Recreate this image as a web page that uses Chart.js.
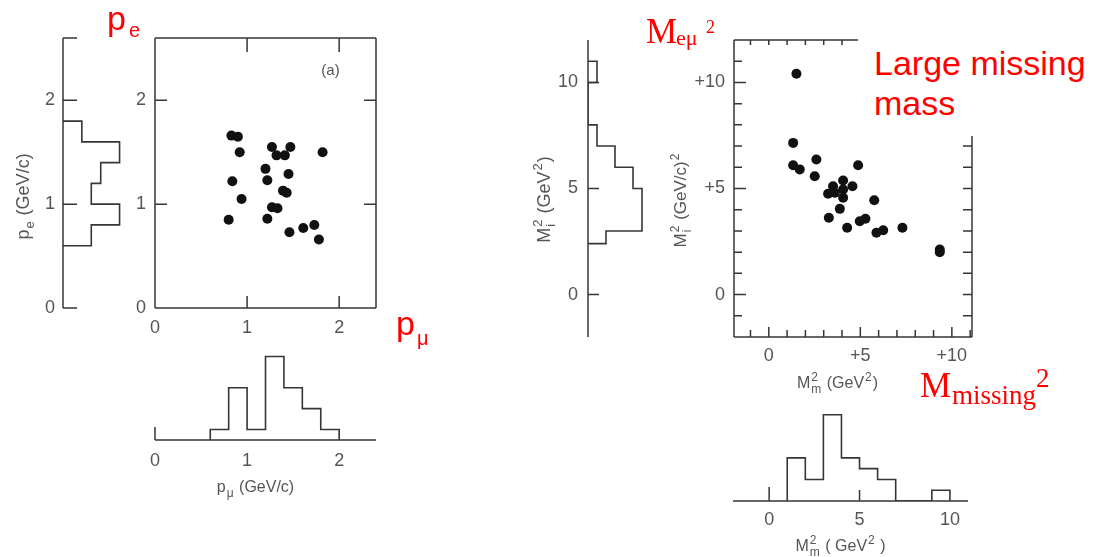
<!DOCTYPE html>
<html>
<head>
<meta charset="utf-8">
<script src="https://cdn.jsdelivr.net/npm/chart.js@4.4.1/dist/chart.umd.min.js"></script>
<style>
  html, body { margin: 0; padding: 0; background: #fff; }
  #stage { position: relative; width: 1094px; height: 557px; overflow: hidden; }
  #stage canvas { position: absolute; left: 0; top: 0; }
  .note { position: absolute; color: #f00; white-space: nowrap; line-height: 1; }
  .sans { font-family: "Liberation Sans", Arial, sans-serif; }
  .serif { font-family: "Liberation Serif", "Times New Roman", serif; }
  #bigNote { left: 858px; top: 30px; width: 220px; height: 93px; padding: 13px 0 0 16px;
             background: #fff; font-size: 34px; line-height: 40px; }
</style>
</head>
<body>
<div id="stage">
  <canvas id="peHist" width="1094" height="557"></canvas>
  <canvas id="pScatter" width="1094" height="557"></canvas>
  <canvas id="pMuHist" width="1094" height="557"></canvas>
  <canvas id="mI2Hist" width="1094" height="557"></canvas>
  <canvas id="massScatter" width="1094" height="557"></canvas>
  <canvas id="mMissHist" width="1094" height="557"></canvas>

  <div class="note sans" style="left:107px;top:1px;font-size:34px">p</div>
  <div class="note sans" style="left:129px;top:20px;font-size:20px">e</div>
  <div class="note sans" style="left:396px;top:306px;font-size:34px">p</div>
  <div class="note sans" style="left:417px;top:328px;font-size:20px">μ</div>

  <div class="note serif" style="left:646px;top:14px;font-size:35px">M</div>
  <div class="note serif" style="left:676px;top:27px;font-size:22px">eμ</div>
  <div class="note serif" style="left:706px;top:18px;font-size:18px">2</div>

  <div class="note serif" style="left:920px;top:368px;font-size:35px">M</div>
  <div class="note serif" style="left:952px;top:382px;font-size:27px">missing</div>
  <div class="note serif" style="left:1036px;top:365px;font-size:27px">2</div>

  <div id="bigNote" class="note sans">Large missing<br>mass</div>
</div>
<script>
// momenta of the e-mu events (GeV/c)
const pMu = [0.83, 0.90, 0.92, 0.84, 0.94, 0.80, 1.27, 1.32, 1.41, 1.47, 1.20, 1.22,
             1.45, 1.39, 1.43, 1.27, 1.33, 1.22, 1.46, 1.61, 1.73, 1.78, 1.82];
const pE = [1.66, 1.65, 1.50, 1.22, 1.05, 0.85, 1.55, 1.47, 1.47, 1.55, 1.34, 1.23,
            1.29, 1.13, 1.11, 0.97, 0.96, 0.86, 0.73, 0.77, 0.80, 0.66, 1.50];

// missing mass squared vs e-mu mass squared (GeV^2)
const mMiss2 = [1.51, 1.33, 1.33, 1.69, 2.60, 2.51, 4.88, 3.24, 3.51, 3.61, 4.06, 4.06, 4.06,
                4.57, 3.28, 3.88, 4.28, 4.97, 5.28, 5.76, 5.88, 6.25, 7.30, 9.34, 9.34];
const mI2 = [10.41, 7.15, 6.10, 5.90, 6.37, 5.58, 6.10, 4.75, 5.11, 4.80, 5.38, 4.95, 4.56,
             5.11, 3.62, 4.04, 3.15, 3.46, 3.57, 4.45, 2.91, 3.03, 3.15, 2.12, 2.00];

// projections
const peEdges = [0.6, 0.8, 1.0, 1.2, 1.4, 1.6, 1.8];
const peCounts = [3, 6, 3, 4, 6, 2];
const pMuEdges = [0.6, 0.8, 1.0, 1.2, 1.4, 1.6, 1.8, 2.0];
const pMuCounts = [1, 5, 1, 8, 5, 3, 1];
const mI2Edges = [2.4, 3, 5, 6, 7, 8, 9, 10, 11];
const mI2Counts = [2, 6, 5, 3, 1, 0, 0, 1];
const mMissEdges = [1, 2, 3, 4, 5, 6, 7, 8, 9, 10];
const mMissCounts = [4, 2, 8, 4, 3, 2, 0, 0, 1];

// tick labels
const pTicks = [0, 1, 2];
const pTickLabels = ['0', '1', '2'];
const massTicks = [0, 5, 10];
const massHistLabels = ['0', '5', '10'];
const massScatterLabels = ['0', '+5', '+10'];

const W = 1094, H = 557;
const INK = '#363636';
const GRAY = '#555';
const FONT = '"Liberation Sans", Arial, sans-serif';

// step outline of a histogram, optionally lying on its side
function outline(edges, counts, sideways) {
  const pts = [[edges[0], 0]];
  counts.forEach((c, i) => pts.push([edges[i], c], [edges[i + 1], c]));
  pts.push([edges[edges.length - 1], 0]);
  return pts.map(([v, c]) => sideways ? { x: c, y: v } : { x: v, y: c });
}

function unitSteps(from, to) {
  const out = [];
  for (let v = from; v <= to; v++) out.push(v);
  return out;
}

function axis(min, max, o) {
  o = o || {};
  return {
    type: 'linear', min, max,
    display: !!o.values,
    position: o.position,
    grid: { display: false, drawTicks: false },
    border: { display: false },
    ticks: {
      autoSkip: false, maxRotation: 0, padding: o.padding || 8,
      color: GRAY, font: { family: FONT, size: 18 },
      callback: (v, i) => (o.labels || [])[i]
    },
    afterBuildTicks: s => { if (o.values) s.ticks = o.values.map(v => ({ value: v })); },
    afterFit: s => {
      if (o.size != null) {
        if (s.isHorizontal()) s.height = o.size; else s.width = o.size;
      }
      s.paddingLeft = s.paddingRight = s.paddingTop = s.paddingBottom = 0;
    }
  };
}

// frame lines and tick marks pointing into the plot
const inwardTicks = {
  id: 'inwardTicks',
  afterDatasetsDraw(chart, args, opts) {
    const { ctx, chartArea: a, scales: { x, y } } = chart;
    ctx.save();
    ctx.strokeStyle = INK;
    ctx.lineWidth = 1.5;
    ctx.beginPath();
    (opts.edges || []).forEach(side => {
      if (side === 'left') { ctx.moveTo(a.left, a.top); ctx.lineTo(a.left, a.bottom); }
      if (side === 'right') { ctx.moveTo(a.right, a.top); ctx.lineTo(a.right, a.bottom); }
      if (side === 'top') { ctx.moveTo(a.left, a.top); ctx.lineTo(a.right, a.top); }
      if (side === 'bottom') { ctx.moveTo(a.left, a.bottom); ctx.lineTo(a.right, a.bottom); }
    });
    (opts.marks || []).forEach(m => m.values.forEach(v => {
      if (m.side === 'left') { const p = y.getPixelForValue(v); ctx.moveTo(a.left, p); ctx.lineTo(a.left + m.len, p); }
      if (m.side === 'right') { const p = y.getPixelForValue(v); ctx.moveTo(a.right, p); ctx.lineTo(a.right - m.len, p); }
      if (m.side === 'top') { const p = x.getPixelForValue(v); ctx.moveTo(p, a.top); ctx.lineTo(p, a.top + m.len); }
      if (m.side === 'bottom') { const p = x.getPixelForValue(v); ctx.moveTo(p, a.bottom); ctx.lineTo(p, a.bottom - m.len); }
    }));
    ctx.stroke();
    ctx.restore();
  }
};

// axis titles with sub/superscripts; x,y give the baseline centre
const richTitles = {
  id: 'richTitles',
  afterDraw(chart, args, opts) {
    const ctx = chart.ctx;
    (opts.items || []).forEach(it => {
      const size = it.size || 16, small = Math.round(size * 0.72);
      ctx.save();
      ctx.translate(it.x, it.y);
      if (it.rotate) ctx.rotate(-Math.PI / 2);
      ctx.fillStyle = GRAY;
      ctx.textBaseline = 'alphabetic';
      const widths = it.parts.map(p => {
        ctx.font = `${p.sub || p.sup ? small : size}px ${FONT}`;
        let w = ctx.measureText(p.text).width;
        if (p.over) w = Math.max(w, ctx.measureText(p.over).width);
        return w + 1;
      });
      let cx = -widths.reduce((s, w) => s + w, 0) / 2;
      it.parts.forEach((p, i) => {
        ctx.font = `${p.sub || p.sup ? small : size}px ${FONT}`;
        const dy = p.sub ? size * 0.3 : p.sup ? -size * 0.42 : 0;
        ctx.fillText(p.text, cx, dy);
        if (p.over) ctx.fillText(p.over, cx, -size * 0.42);
        cx += widths[i];
      });
      ctx.restore();
    });
  }
};

// build a chart whose plot area sits at the given page rectangle
function plot(id, area, scales, datasets, extra) {
  const yAxisW = scales.yW || 0, xAxisH = scales.xH || 0;
  return new Chart(document.getElementById(id), {
    type: 'scatter',
    data: { datasets },
    options: {
      responsive: false,
      animation: false,
      events: [],
      layout: {
        padding: {
          left: area.l - yAxisW, top: area.t,
          right: W - area.r, bottom: H - area.b - xAxisH
        }
      },
      scales: { x: scales.x, y: scales.y },
      plugins: Object.assign({ legend: { display: false }, tooltip: { enabled: false } }, extra)
    },
    plugins: [inwardTicks, richTitles]
  });
}

const stepStyle = { showLine: true, borderColor: INK, borderWidth: 1.6, pointRadius: 0, fill: false };
const dotStyle = { pointRadius: 5, pointBackgroundColor: '#111', pointBorderWidth: 0 };

// p_e projection
plot('peHist', { l: 63, r: 129, t: 38, b: 308 }, {
  yW: 63,
  x: axis(0, 7),
  y: axis(0, 2.6, { values: pTicks, labels: pTickLabels, position: 'left', size: 63, padding: 8 })
}, [Object.assign({ data: outline(peEdges, peCounts, true) }, stepStyle)], {
  inwardTicks: { edges: ['left'], marks: [{ side: 'left', values: [0, 1, 2, 2.6], len: 14 }] },
  richTitles: { items: [{ x: 29, y: 196, size: 18, rotate: true, parts: [{ text: 'p' }, { text: 'e', sub: true }, { text: ' (GeV/c)' }] }] }
});

// p_mu vs p_e
plot('pScatter', { l: 155, r: 376, t: 38, b: 308 }, {
  yW: 40, xH: 30,
  x: axis(0, 2.4, { values: pTicks, labels: pTickLabels, position: 'bottom', size: 30, padding: 9 }),
  y: axis(0, 2.6, { values: pTicks, labels: pTickLabels, position: 'left', size: 40, padding: 9 })
}, [Object.assign({ data: pMu.map((v, i) => ({ x: v, y: pE[i] })) }, dotStyle)], {
  inwardTicks: {
    edges: ['left', 'right', 'top', 'bottom'],
    marks: [
      { side: 'left', values: [1, 2], len: 12 }, { side: 'right', values: [1, 2], len: 12 },
      { side: 'top', values: [1, 2], len: 14 }, { side: 'bottom', values: [1, 2], len: 12 }
    ]
  },
  richTitles: { items: [{ x: 331, y: 75, size: 15, parts: [{ text: '(a)' }] }] }
});

// p_mu projection
plot('pMuHist', { l: 155, r: 376, t: 346, b: 440 }, {
  xH: 30,
  x: axis(0, 2.4, { values: pTicks, labels: pTickLabels, position: 'bottom', size: 30, padding: 10 }),
  y: axis(0, 9)
}, [Object.assign({ data: outline(pMuEdges, pMuCounts, false) }, stepStyle)], {
  inwardTicks: { edges: ['bottom'], marks: [{ side: 'bottom', values: [0], len: 13 }] },
  richTitles: { items: [{ x: 256, y: 492, parts: [{ text: 'p' }, { text: 'μ', sub: true }, { text: ' (GeV/c)' }] }] }
});

// M_i^2 projection
plot('mI2Hist', { l: 588, r: 651, t: 40, b: 337 }, {
  yW: 40,
  x: axis(0, 7),
  y: axis(-2, 12, { values: massTicks, labels: massHistLabels, position: 'left', size: 40, padding: 10 })
}, [Object.assign({ data: outline(mI2Edges, mI2Counts, true) }, stepStyle)], {
  inwardTicks: { edges: ['left'], marks: [{ side: 'left', values: massTicks, len: 11 }] },
  richTitles: { items: [{ x: 550, y: 199, size: 18, rotate: true, parts: [{ text: 'M' }, { text: 'i', sub: true, over: '2' }, { text: ' (GeV' }, { text: '2', sup: true }, { text: ')' }] }] }
});

// M_i^2 vs missing mass squared
plot('massScatter', { l: 734, r: 972, t: 40, b: 337 }, {
  yW: 50, xH: 30,
  x: axis(-1.9, 11.1, { values: massTicks, labels: massScatterLabels, position: 'bottom', size: 30, padding: 8 }),
  y: axis(-2, 12, { values: massTicks, labels: massScatterLabels, position: 'left', size: 50, padding: 9 })
}, [Object.assign({ data: mMiss2.map((v, i) => ({ x: v, y: mI2[i] })) }, dotStyle)], {
  inwardTicks: {
    edges: ['left', 'right', 'top', 'bottom'],
    marks: [
      { side: 'left', values: unitSteps(-1, 11), len: 8 }, { side: 'left', values: massTicks, len: 12 },
      { side: 'right', values: unitSteps(-1, 11), len: 9 },
      { side: 'top', values: unitSteps(-1, 11), len: 5 },
      { side: 'bottom', values: unitSteps(-1, 11), len: 7 }, { side: 'bottom', values: massTicks, len: 10 }
    ]
  },
  richTitles: { items: [
    { x: 686, y: 200, size: 17, rotate: true, parts: [{ text: 'M' }, { text: 'i', sub: true, over: '2' }, { text: ' (GeV/c)' }, { text: '2', sup: true }] },
    { x: 838, y: 388, parts: [{ text: 'M' }, { text: 'm', sub: true, over: '2' }, { text: ' (GeV' }, { text: '2', sup: true }, { text: ')' }] }
  ] }
});

// missing mass squared projection
plot('mMissHist', { l: 733, r: 968, t: 404, b: 501 }, {
  xH: 30,
  x: axis(-2, 11, { values: massTicks, labels: massHistLabels, position: 'bottom', size: 30, padding: 8 }),
  y: axis(0, 9)
}, [Object.assign({ data: outline(mMissEdges, mMissCounts, false) }, stepStyle)], {
  inwardTicks: { edges: ['bottom'], marks: [{ side: 'bottom', values: [0], len: 14 }, { side: 'bottom', values: [5], len: 11 }] },
  richTitles: { items: [{ x: 841, y: 551, parts: [{ text: 'M' }, { text: 'm', sub: true, over: '2' }, { text: ' ( GeV' }, { text: '2', sup: true }, { text: ' )' }] }] }
});
</script>
</body>
</html>
